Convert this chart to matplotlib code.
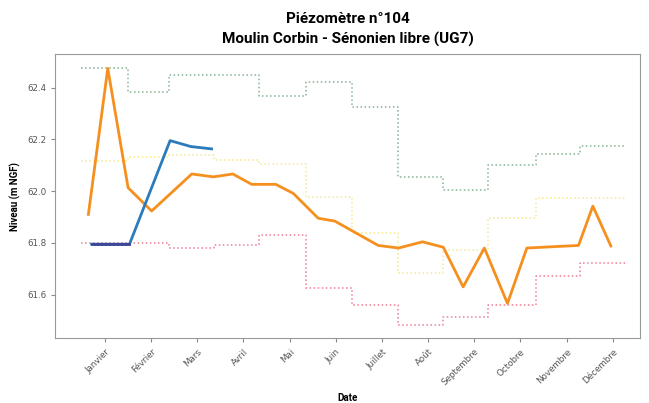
import numpy as np
import matplotlib.pyplot as plt

# mois (0 = Janvier ... 11 = Décembre)
mois = ["Janvier", "Février", "Mars", "Avril", "Mai", "Juin", "Juillet",
        "Août", "Septembre", "Octobre", "Novembre", "Décembre"]

# limites des paliers mensuels (en mois)
bornes = [-0.52, 0.50, 1.39, 2.37, 3.33, 4.36, 5.35, 6.35, 7.32, 8.30, 9.33, 10.30, 11.29]

# niveaux mensuels historiques
niv_max = [62.476, 62.382, 62.448, 62.448, 62.367, 62.421, 62.324, 62.054, 62.004, 62.100, 62.143, 62.174]
niv_moy = [62.118, 62.130, 62.139, 62.122, 62.105, 61.978, 61.837, 61.682, 61.772, 61.895, 61.975, 61.973]
niv_min = [61.800, 61.800, 61.780, 61.790, 61.830, 61.625, 61.560, 61.483, 61.513, 61.560, 61.672, 61.723]

# année précédente
x_prec = [-0.36, 0.06, 0.50, 1.01, 1.88, 2.35, 2.77, 3.18, 3.70, 4.08, 4.62, 4.98,
          5.92, 6.36, 6.88, 7.33, 7.76, 8.22, 8.72, 9.14, 9.69, 10.26, 10.57, 10.96]
y_prec = [61.910, 62.474, 62.013, 61.923, 62.066, 62.055, 62.066, 62.026, 62.026, 61.991, 61.895, 61.884,
          61.790, 61.780, 61.804, 61.783, 61.630, 61.780, 61.566, 61.780, 61.785, 61.790, 61.942, 61.788]

# année en cours
x_cour = [-0.29, 0.53, 1.41, 1.86, 2.31]
y_cour = [61.795, 61.795, 62.195, 62.172, 62.163]

plt.rcParams['font.family'] = ['Roboto', 'DejaVu Sans']

fig = plt.figure(figsize=(6.49, 4.03), dpi=100)
ax = fig.add_axes([0.085, 0.161, 0.901, 0.704])

def paliers(val):
    return np.append(val, val[-1])

ax.step(bornes, paliers(niv_max), where='post', color='#86b394', ls=':', lw=1.1)
ax.step(bornes, paliers(niv_moy), where='post', color='#f5e88e', ls=':', lw=1.1)
ax.step(bornes, paliers(niv_min), where='post', color='#ee7d95', ls=':', lw=1.1)

ax.plot(x_prec, y_prec, color='#f5901f', lw=2)
ax.plot(x_cour, y_cour, color='#2b7bbd', lw=2)
ax.plot(x_cour[:2], y_cour[:2], color='#3f4596', lw=2)

ax.set_xlim(-1.08, 11.59)
ax.set_ylim(61.432, 62.528)
ax.set_xticks(range(12))
ax.set_xticklabels(mois, rotation=45, ha='right', rotation_mode='anchor',
                   fontsize=6.3, family='DejaVu Sans', color='#555555')
ax.set_yticks([61.6, 61.8, 62.0, 62.2, 62.4])
ax.set_yticklabels(["61.6", "61.8", "62.0", "62.2", "62.4"], fontsize=6.3,
                   family='DejaVu Sans', color='#555555')
ax.tick_params(length=3, color='#888888')
for s in ax.spines.values():
    s.set_color('#999999')

ax.set_xlabel("Date", fontsize=7, fontweight='bold')
ax.set_ylabel("Niveau (m NGF)", fontsize=7, fontweight='bold')
ax.set_title("Piézomètre n°104\nMoulin Corbin - Sénonien libre (UG7)",
             fontsize=11, fontweight='bold', pad=8, linespacing=1.5)

fig.savefig("out.png", dpi=100)
